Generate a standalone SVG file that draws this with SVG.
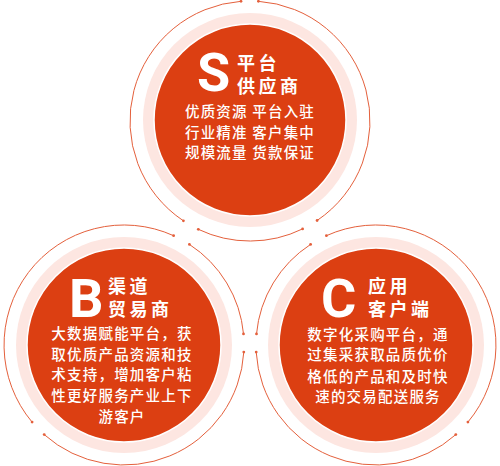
<svg xmlns="http://www.w3.org/2000/svg" width="500" height="466" viewBox="0 0 500 466">
<style>
.halo{fill:#fde6e1}
.disc{fill:#dc3f12;stroke:#ffffff;stroke-width:1.5}
.ring{fill:none;stroke:#e4603c;stroke-width:1;marker-start:url(#dot);marker-end:url(#dot)}
.big{font-family:Roboto,"Liberation Sans",sans-serif;font-weight:700;font-size:54px;fill:#ffffff}
.head{font-family:"Noto Sans CJK SC",sans-serif;font-weight:700;font-size:18px;fill:#ffffff;letter-spacing:3.5px}
.body{font-family:"Noto Sans CJK SC",sans-serif;font-weight:500;font-size:14.5px;fill:#ffffff;letter-spacing:1.2px;text-anchor:middle}
</style>
<defs>
<marker id="dot" viewBox="0 0 4 4" refX="2" refY="2" markerWidth="4" markerHeight="4" markerUnits="userSpaceOnUse">
<circle cx="2" cy="2" r="1.4" fill="#e4603c"/>
</marker>
</defs>
<g id="connectors">
<path class="ring" d="M258.4,1.3 A120,120 0 0 1 317.1,220.5"/>
<path class="ring" d="M302.6,228.9 A120,120 0 0 1 198.3,229.3"/>
<path class="ring" d="M183.4,220.8 A120,120 0 0 1 241,1.3"/>
<path class="ring" d="M189.4,244.4 A120,120 0 0 1 243.5,333.9"/>
<path class="ring" d="M243.8,352.1 A120,120 0 0 1 44.2,434.6"/>
<path class="ring" d="M32.1,422.1 A120,120 0 0 1 173.6,235.7"/>
<path class="ring" d="M256.5,333.9 A120,120 0 0 1 310.6,244.4"/>
<path class="ring" d="M455.8,434.6 A120,120 0 0 1 256.2,352.1"/>
<path class="ring" d="M326.4,235.7 A120,120 0 0 1 467.9,422.1"/>
</g>
<g id="node-s">
<circle class="halo" cx="250" cy="120" r="107"/>
<circle class="disc" cx="250" cy="120" r="96"/>
<text class="big" x="197" y="91">S</text>
<text class="head"><tspan x="237" y="70">平台</tspan><tspan x="237" y="93">供应商</tspan></text>
<text class="body"><tspan x="250" y="117">优质资源 平台入驻</tspan><tspan x="250" y="138">行业精准 客户集中</tspan><tspan x="250" y="158">规模流量 货款保证</tspan></text>
</g>
<g id="node-b">
<circle class="halo" cx="124" cy="345" r="108"/>
<circle class="disc" cx="124" cy="345" r="97"/>
<text class="big" x="69" y="317">B</text>
<text class="head"><tspan x="108" y="293">渠道</tspan><tspan x="108" y="316">贸易商</tspan></text>
<text class="body"><tspan x="122" y="339">大数据赋能平台，获</tspan><tspan x="122" y="360">取优质产品资源和技</tspan><tspan x="122" y="380">术支持，增加客户粘</tspan><tspan x="122" y="401">性更好服务产业上下</tspan><tspan x="122" y="422">游客户</tspan></text>
</g>
<g id="node-c">
<circle class="halo" cx="376" cy="345" r="108"/>
<circle class="disc" cx="376" cy="345" r="97"/>
<text class="big" x="321" y="317">C</text>
<text class="head"><tspan x="368" y="293">应用</tspan><tspan x="368" y="316">客户端</tspan></text>
<text class="body"><tspan x="378" y="340">数字化采购平台，通</tspan><tspan x="378" y="360">过集采获取品质优价</tspan><tspan x="378" y="382">格低的产品和及时快</tspan><tspan x="378" y="402">速的交易配送服务</tspan></text>
</g>
</svg>
